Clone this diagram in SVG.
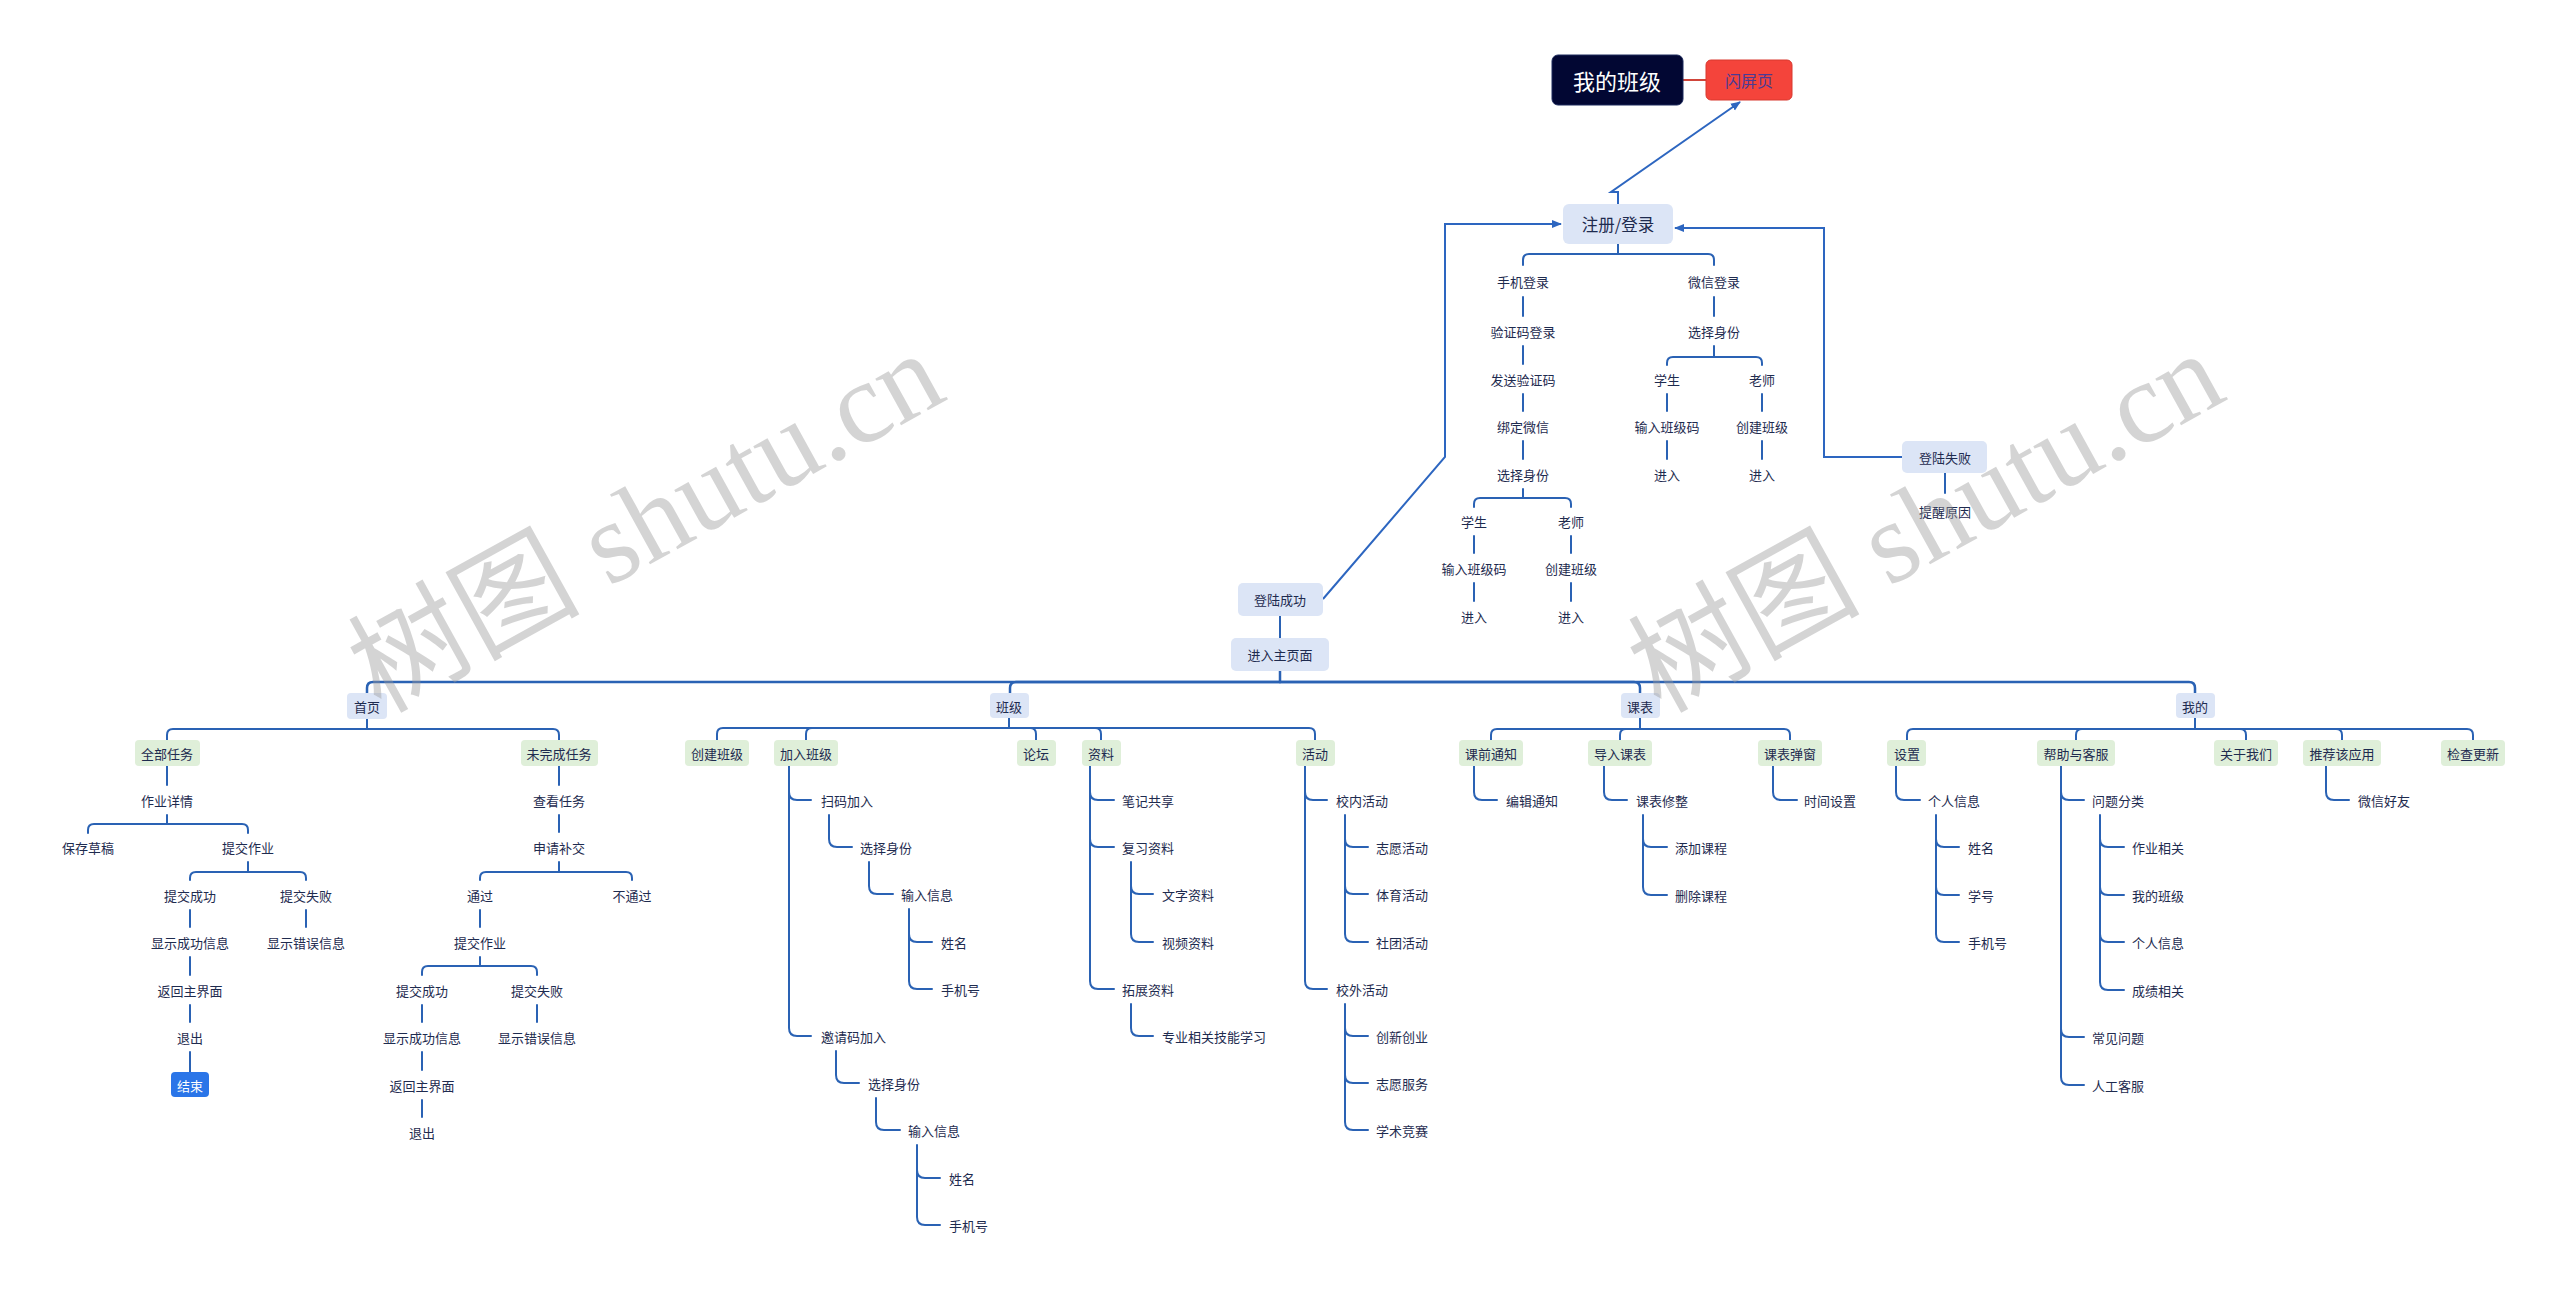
<svg xmlns="http://www.w3.org/2000/svg" width="2560" height="1295" viewBox="0 0 2560 1295">
<defs>
<style>
.t{font-family:"Noto Sans CJK SC","Liberation Sans",sans-serif;font-size:13px;fill:#1e2b4f;text-anchor:middle;dominant-baseline:central}
.l{text-anchor:start}
.c{fill:none;stroke:#2a62b4;stroke-width:2;stroke-linecap:round;stroke-linejoin:round}
.m{stroke-width:2.5}
.a{fill:none;stroke:#2d66c0;stroke-width:2}
.bb{fill:#dce5f6}
.bg{fill:#dfefd9}
.wm{font-family:"Liberation Serif","Noto Sans CJK SC",serif;font-size:116px;fill:#9a9a9a;opacity:0.42;text-anchor:middle;dominant-baseline:central}
</style>
<marker id="arr" viewBox="0 0 10 10" refX="9" refY="5" markerWidth="10" markerHeight="10" markerUnits="userSpaceOnUse" orient="auto"><path d="M0,1 L10,5 L0,9 z" fill="#2d66c0"/></marker>
</defs>
<rect width="2560" height="1295" fill="#ffffff"/>

<g id="connectors">
<path d="M1683,80 H1706" fill="none" stroke="#d0453a" stroke-width="2"/>
<path class="a" d="M1618,204 V192 H1611 L1740,102" marker-end="url(#arr)"/>
<path class="a" d="M1323,599 L1445,457 V224 H1561" marker-end="url(#arr)"/>
<path class="a" d="M1902,457 H1824 V228 H1675" marker-end="url(#arr)"/>
<!-- login tree -->
<path class="c" d="M1618,244 V254 H1529 Q1523,254 1523,260 V265"/>
<path class="c" d="M1618,254 H1708 Q1714,254 1714,260 V265"/>
<path class="c" d="M1523,297 V316 M1523,346 V364 M1523,394 V411 M1523,441 V459"/>
<path class="c" d="M1523,489 V498 H1480 Q1474,498 1474,504 V507"/>
<path class="c" d="M1523,498 H1565 Q1571,498 1571,504 V507"/>
<path class="c" d="M1474,536 V553 M1474,583 V601 M1571,536 V553 M1571,583 V601"/>
<path class="c" d="M1714,297 V316"/>
<path class="c" d="M1714,346 V357 H1673 Q1667,357 1667,363 V365"/>
<path class="c" d="M1714,357 H1756 Q1762,357 1762,363 V365"/>
<path class="c" d="M1667,394 V411 M1667,441 V459 M1762,394 V411 M1762,441 V459"/>
<path class="c" d="M1945,473 V493"/>
<path class="c" d="M1280,616 V638"/>
<!-- main bar -->
<path class="c m" d="M1280,671 V682 H373 Q367,682 367,688 V693"/>
<path class="c m" d="M1280,682 H1016 Q1010,682 1010,688 V693"/>
<path class="c m" d="M1280,682 H1634 Q1640,682 1640,688 V693"/>
<path class="c m" d="M1280,682 H2189 Q2195,682 2195,688 V693"/>
<!-- 首页 -->
<path class="c" d="M367,719 V729 H173 Q167,729 167,735 V740"/>
<path class="c" d="M367,729 H553 Q559,729 559,735 V740"/>
<path class="c" d="M167,766 V785"/>
<path class="c" d="M167,815 V824 H94 Q88,824 88,830 V833"/>
<path class="c" d="M167,824 H242 Q248,824 248,830 V833"/>
<path class="c" d="M248,862 V872 H196 Q190,872 190,878 V880"/>
<path class="c" d="M248,872 H300 Q306,872 306,878 V880"/>
<path class="c" d="M190,910 V927 M306,910 V927 M190,957 V975 M190,1005 V1022 M190,1052 V1072"/>
<path class="c" d="M559,766 V785 M559,815 V832"/>
<path class="c" d="M559,862 V872 H486 Q480,872 480,878 V880"/>
<path class="c" d="M559,872 H626 Q632,872 632,878 V880"/>
<path class="c" d="M480,910 V927"/>
<path class="c" d="M480,957 V966 H428 Q422,966 422,972 V975"/>
<path class="c" d="M480,966 H531 Q537,966 537,972 V975"/>
<path class="c" d="M422,1005 V1022 M537,1005 V1022 M422,1052 V1070 M422,1100 V1117"/>
<!-- 班级 -->
<path class="c" d="M1009,718 V728 H723 Q717,728 717,734 V740"/>
<path class="c" d="M1009,728 H812 Q806,728 806,734 V740"/>
<path class="c" d="M1009,728 H1030 Q1036,728 1036,734 V740"/>
<path class="c" d="M1009,728 H1095 Q1101,728 1101,734 V740"/>
<path class="c" d="M1009,728 H1309 Q1315,728 1315,734 V740"/>
<path class="c" d="M789,766 V792 Q789,800 797,800 H811 M789,792 V1028 Q789,1036 797,1036 H811"/>
<path class="c" d="M829,815 V839 Q829,847 837,847 H852"/>
<path class="c" d="M869,862 V886 Q869,894 877,894 H893"/>
<path class="c" d="M909,909 V934 Q909,942 917,942 H932 M909,934 V981 Q909,989 917,989 H932"/>
<path class="c" d="M836,1051 V1075 Q836,1083 844,1083 H859"/>
<path class="c" d="M876,1098 V1122 Q876,1130 884,1130 H900"/>
<path class="c" d="M917,1145 V1170 Q917,1178 925,1178 H940 M917,1170 V1217 Q917,1225 925,1225 H940"/>
<path class="c" d="M1090,766 V792 Q1090,800 1098,800 H1114 M1090,792 V839 Q1090,847 1098,847 H1114 M1090,839 V981 Q1090,989 1098,989 H1114"/>
<path class="c" d="M1131,862 V886 Q1131,894 1139,894 H1153 M1131,886 V934 Q1131,942 1139,942 H1153"/>
<path class="c" d="M1131,1004 V1028 Q1131,1036 1139,1036 H1153"/>
<path class="c" d="M1305,766 V792 Q1305,800 1313,800 H1327 M1305,792 V981 Q1305,989 1313,989 H1327"/>
<path class="c" d="M1345,815 V839 Q1345,847 1353,847 H1368 M1345,839 V886 Q1345,894 1353,894 H1368 M1345,886 V934 Q1345,942 1353,942 H1368"/>
<path class="c" d="M1345,1004 V1028 Q1345,1036 1353,1036 H1368 M1345,1028 V1075 Q1345,1083 1353,1083 H1368 M1345,1075 V1122 Q1345,1130 1353,1130 H1368"/>
<!-- 课表 -->
<path class="c" d="M1640,718 V729 H1497 Q1491,729 1491,735 V740"/>
<path class="c" d="M1640,729 H1626 Q1620,729 1620,735 V740"/>
<path class="c" d="M1640,729 H1784 Q1790,729 1790,735 V740"/>
<path class="c" d="M1474,766 V792 Q1474,800 1482,800 H1497"/>
<path class="c" d="M1604,766 V792 Q1604,800 1612,800 H1627"/>
<path class="c" d="M1643,815 V839 Q1643,847 1651,847 H1667 M1643,839 V887 Q1643,895 1651,895 H1667"/>
<path class="c" d="M1773,766 V792 Q1773,800 1781,800 H1797"/>
<!-- 我的 -->
<path class="c" d="M2195,718 V729 H1913 Q1907,729 1907,735 V740"/>
<path class="c" d="M2195,729 H2082 Q2076,729 2076,735 V740"/>
<path class="c" d="M2195,729 H2240 Q2246,729 2246,735 V740"/>
<path class="c" d="M2195,729 H2336 Q2342,729 2342,735 V740"/>
<path class="c" d="M2195,729 H2467 Q2473,729 2473,735 V740"/>
<path class="c" d="M1896,766 V792 Q1896,800 1904,800 H1920"/>
<path class="c" d="M1936,815 V839 Q1936,847 1944,847 H1959 M1936,839 V887 Q1936,895 1944,895 H1959 M1936,887 V934 Q1936,942 1944,942 H1959"/>
<path class="c" d="M2061,766 V792 Q2061,800 2069,800 H2084 M2061,792 V1029 Q2061,1037 2069,1037 H2084 M2061,1029 V1077 Q2061,1085 2069,1085 H2084"/>
<path class="c" d="M2100,815 V839 Q2100,847 2108,847 H2124 M2100,839 V887 Q2100,895 2108,895 H2124 M2100,887 V934 Q2100,942 2108,942 H2124 M2100,934 V982 Q2100,990 2108,990 H2124"/>
<path class="c" d="M2326,766 V792 Q2326,800 2334,800 H2349"/>
</g>

<!-- top nodes -->
<g id="n-root"><rect x="1552" y="55" width="131" height="50" rx="6" fill="#020733" stroke="#1c2a5c" stroke-width="1"/><text class="t" x="1617" y="80" style="font-size:22px;fill:#ffffff">我的班级</text></g>
<g id="n-splash"><rect x="1706" y="60" width="86" height="40" rx="5" fill="#f4443b" stroke="#d8392f" stroke-width="1"/><text class="t" x="1749" y="80" style="font-size:16px;fill:#4a3b96">闪屏页</text></g>
<g id="n-login"><rect class="bb" x="1563" y="204" width="110" height="40" rx="6"/><text class="t" x="1618" y="224" style="font-size:16.5px">注册/登录</text></g>
<g id="n-phone"><text class="t" x="1523" y="281">手机登录</text></g>
<g id="n-code"><text class="t" x="1523" y="331">验证码登录</text></g>
<g id="n-send"><text class="t" x="1523" y="379">发送验证码</text></g>
<g id="n-bind"><text class="t" x="1523" y="426">绑定微信</text></g>
<g id="n-role1"><text class="t" x="1523" y="474">选择身份</text></g>
<g id="n-stu1"><text class="t" x="1474" y="521">学生</text></g>
<g id="n-tea1"><text class="t" x="1571" y="521">老师</text></g>
<g id="n-stucode1"><text class="t" x="1474" y="568">输入班级码</text></g>
<g id="n-create1"><text class="t" x="1571" y="568">创建班级</text></g>
<g id="n-enter1"><text class="t" x="1474" y="616">进入</text></g>
<g id="n-enter2"><text class="t" x="1571" y="616">进入</text></g>
<g id="n-wechat"><text class="t" x="1714" y="281">微信登录</text></g>
<g id="n-role2"><text class="t" x="1714" y="331">选择身份</text></g>
<g id="n-stu2"><text class="t" x="1667" y="379">学生</text></g>
<g id="n-tea2"><text class="t" x="1762" y="379">老师</text></g>
<g id="n-stucode2"><text class="t" x="1667" y="426">输入班级码</text></g>
<g id="n-create2"><text class="t" x="1762" y="426">创建班级</text></g>
<g id="n-enter3"><text class="t" x="1667" y="474">进入</text></g>
<g id="n-enter4"><text class="t" x="1762" y="474">进入</text></g>
<g id="n-fail"><rect class="bb" x="1902" y="441" width="85" height="32" rx="5"/><text class="t" x="1945" y="457">登陆失败</text></g>
<g id="n-reason"><text class="t" x="1945" y="511">提醒原因</text></g>
<g id="n-ok"><rect class="bb" x="1238" y="583" width="85" height="33" rx="5"/><text class="t" x="1280" y="599">登陆成功</text></g>
<g id="n-main"><rect class="bb" x="1231" y="638" width="98" height="33" rx="5"/><text class="t" x="1280" y="654">进入主页面</text></g>

<!-- level 2 -->
<g id="n-home"><rect class="bb" x="347" y="693" width="40" height="26" rx="4"/><text class="t" x="367" y="706">首页</text></g>
<g id="n-class"><rect class="bb" x="990" y="693" width="39" height="25" rx="4"/><text class="t" x="1009" y="706">班级</text></g>
<g id="n-sched"><rect class="bb" x="1621" y="693" width="39" height="25" rx="4"/><text class="t" x="1640" y="706">课表</text></g>
<g id="n-mine"><rect class="bb" x="2176" y="693" width="39" height="25" rx="4"/><text class="t" x="2195" y="706">我的</text></g>

<!-- 首页 subtree -->
<g id="n-alltask"><rect class="bg" x="135" y="740" width="65" height="26" rx="4"/><text class="t" x="167" y="753">全部任务</text></g>
<g id="n-hwdetail"><text class="t" x="167" y="800">作业详情</text></g>
<g id="n-draft"><text class="t" x="88" y="847">保存草稿</text></g>
<g id="n-submit1"><text class="t" x="248" y="847">提交作业</text></g>
<g id="n-succ1"><text class="t" x="190" y="895">提交成功</text></g>
<g id="n-failsub1"><text class="t" x="306" y="895">提交失败</text></g>
<g id="n-succinfo1"><text class="t" x="190" y="942">显示成功信息</text></g>
<g id="n-errinfo1"><text class="t" x="306" y="942">显示错误信息</text></g>
<g id="n-back1"><text class="t" x="190" y="990">返回主界面</text></g>
<g id="n-exit1"><text class="t" x="190" y="1037">退出</text></g>
<g id="n-end"><rect x="171" y="1072" width="38" height="25" rx="4" fill="#2a75e8"/><text class="t" x="190" y="1085" style="fill:#ffffff">结束</text></g>
<g id="n-undone"><rect class="bg" x="521" y="740" width="77" height="26" rx="4"/><text class="t" x="559" y="753">未完成任务</text></g>
<g id="n-view"><text class="t" x="559" y="800">查看任务</text></g>
<g id="n-apply"><text class="t" x="559" y="847">申请补交</text></g>
<g id="n-pass"><text class="t" x="480" y="895">通过</text></g>
<g id="n-nopass"><text class="t" x="632" y="895">不通过</text></g>
<g id="n-submit2"><text class="t" x="480" y="942">提交作业</text></g>
<g id="n-succ2"><text class="t" x="422" y="990">提交成功</text></g>
<g id="n-failsub2"><text class="t" x="537" y="990">提交失败</text></g>
<g id="n-succinfo2"><text class="t" x="422" y="1037">显示成功信息</text></g>
<g id="n-errinfo2"><text class="t" x="537" y="1037">显示错误信息</text></g>
<g id="n-back2"><text class="t" x="422" y="1085">返回主界面</text></g>
<g id="n-exit2"><text class="t" x="422" y="1132">退出</text></g>

<!-- 班级 subtree -->
<g id="n-createclass"><rect class="bg" x="685" y="740" width="64" height="26" rx="4"/><text class="t" x="717" y="753">创建班级</text></g>
<g id="n-joinclass"><rect class="bg" x="774" y="740" width="64" height="26" rx="4"/><text class="t" x="806" y="753">加入班级</text></g>
<g id="n-forum"><rect class="bg" x="1017" y="740" width="39" height="26" rx="4"/><text class="t" x="1036" y="753">论坛</text></g>
<g id="n-data"><rect class="bg" x="1082" y="740" width="39" height="26" rx="4"/><text class="t" x="1101" y="753">资料</text></g>
<g id="n-act"><rect class="bg" x="1296" y="740" width="39" height="26" rx="4"/><text class="t" x="1315" y="753">活动</text></g>
<g id="n-scan"><text class="t l" x="821" y="800">扫码加入</text></g>
<g id="n-role3"><text class="t l" x="860" y="847">选择身份</text></g>
<g id="n-info1"><text class="t l" x="901" y="894">输入信息</text></g>
<g id="n-name1"><text class="t l" x="941" y="942">姓名</text></g>
<g id="n-tel1"><text class="t l" x="941" y="989">手机号</text></g>
<g id="n-invite"><text class="t l" x="821" y="1036">邀请码加入</text></g>
<g id="n-role4"><text class="t l" x="868" y="1083">选择身份</text></g>
<g id="n-info2"><text class="t l" x="908" y="1130">输入信息</text></g>
<g id="n-name2"><text class="t l" x="949" y="1178">姓名</text></g>
<g id="n-tel2"><text class="t l" x="949" y="1225">手机号</text></g>
<g id="n-notes"><text class="t l" x="1122" y="800">笔记共享</text></g>
<g id="n-review"><text class="t l" x="1122" y="847">复习资料</text></g>
<g id="n-text"><text class="t l" x="1162" y="894">文字资料</text></g>
<g id="n-video"><text class="t l" x="1162" y="942">视频资料</text></g>
<g id="n-ext"><text class="t l" x="1122" y="989">拓展资料</text></g>
<g id="n-skill"><text class="t l" x="1162" y="1036">专业相关技能学习</text></g>
<g id="n-inside"><text class="t l" x="1336" y="800">校内活动</text></g>
<g id="n-vol1"><text class="t l" x="1376" y="847">志愿活动</text></g>
<g id="n-sport"><text class="t l" x="1376" y="894">体育活动</text></g>
<g id="n-club"><text class="t l" x="1376" y="942">社团活动</text></g>
<g id="n-outside"><text class="t l" x="1336" y="989">校外活动</text></g>
<g id="n-innov"><text class="t l" x="1376" y="1036">创新创业</text></g>
<g id="n-vol2"><text class="t l" x="1376" y="1083">志愿服务</text></g>
<g id="n-comp"><text class="t l" x="1376" y="1130">学术竞赛</text></g>

<!-- 课表 subtree -->
<g id="n-notice"><rect class="bg" x="1459" y="740" width="64" height="26" rx="4"/><text class="t" x="1491" y="753">课前通知</text></g>
<g id="n-import"><rect class="bg" x="1588" y="740" width="64" height="26" rx="4"/><text class="t" x="1620" y="753">导入课表</text></g>
<g id="n-popup"><rect class="bg" x="1758" y="740" width="64" height="26" rx="4"/><text class="t" x="1790" y="753">课表弹窗</text></g>
<g id="n-editnotice"><text class="t l" x="1506" y="800">编辑通知</text></g>
<g id="n-fix"><text class="t l" x="1636" y="800">课表修整</text></g>
<g id="n-add"><text class="t l" x="1675" y="847">添加课程</text></g>
<g id="n-del"><text class="t l" x="1675" y="895">删除课程</text></g>
<g id="n-time"><text class="t l" x="1804" y="800">时间设置</text></g>

<!-- 我的 subtree -->
<g id="n-settings"><rect class="bg" x="1887" y="740" width="39" height="26" rx="4"/><text class="t" x="1907" y="753">设置</text></g>
<g id="n-help"><rect class="bg" x="2037" y="740" width="78" height="26" rx="4"/><text class="t" x="2076" y="753">帮助与客服</text></g>
<g id="n-about"><rect class="bg" x="2214" y="740" width="64" height="26" rx="4"/><text class="t" x="2246" y="753">关于我们</text></g>
<g id="n-recommend"><rect class="bg" x="2303" y="740" width="78" height="26" rx="4"/><text class="t" x="2342" y="753">推荐该应用</text></g>
<g id="n-update"><rect class="bg" x="2441" y="740" width="64" height="26" rx="4"/><text class="t" x="2473" y="753">检查更新</text></g>
<g id="n-pinfo"><text class="t l" x="1928" y="800">个人信息</text></g>
<g id="n-name3"><text class="t l" x="1968" y="847">姓名</text></g>
<g id="n-sid"><text class="t l" x="1968" y="895">学号</text></g>
<g id="n-tel3"><text class="t l" x="1968" y="942">手机号</text></g>
<g id="n-qcat"><text class="t l" x="2092" y="800">问题分类</text></g>
<g id="n-q1"><text class="t l" x="2132" y="847">作业相关</text></g>
<g id="n-q2"><text class="t l" x="2132" y="895">我的班级</text></g>
<g id="n-q3"><text class="t l" x="2132" y="942">个人信息</text></g>
<g id="n-q4"><text class="t l" x="2132" y="990">成绩相关</text></g>
<g id="n-faq"><text class="t l" x="2092" y="1037">常见问题</text></g>
<g id="n-human"><text class="t l" x="2092" y="1085">人工客服</text></g>
<g id="n-wxfriend"><text class="t l" x="2358" y="800">微信好友</text></g>

<!-- watermark -->
<g id="watermark">
<text class="wm" x="646" y="522" transform="rotate(-29 646 522)">树图 shutu.cn</text>
<text class="wm" x="1926" y="522" transform="rotate(-29 1926 522)">树图 shutu.cn</text>
</g>
</svg>
